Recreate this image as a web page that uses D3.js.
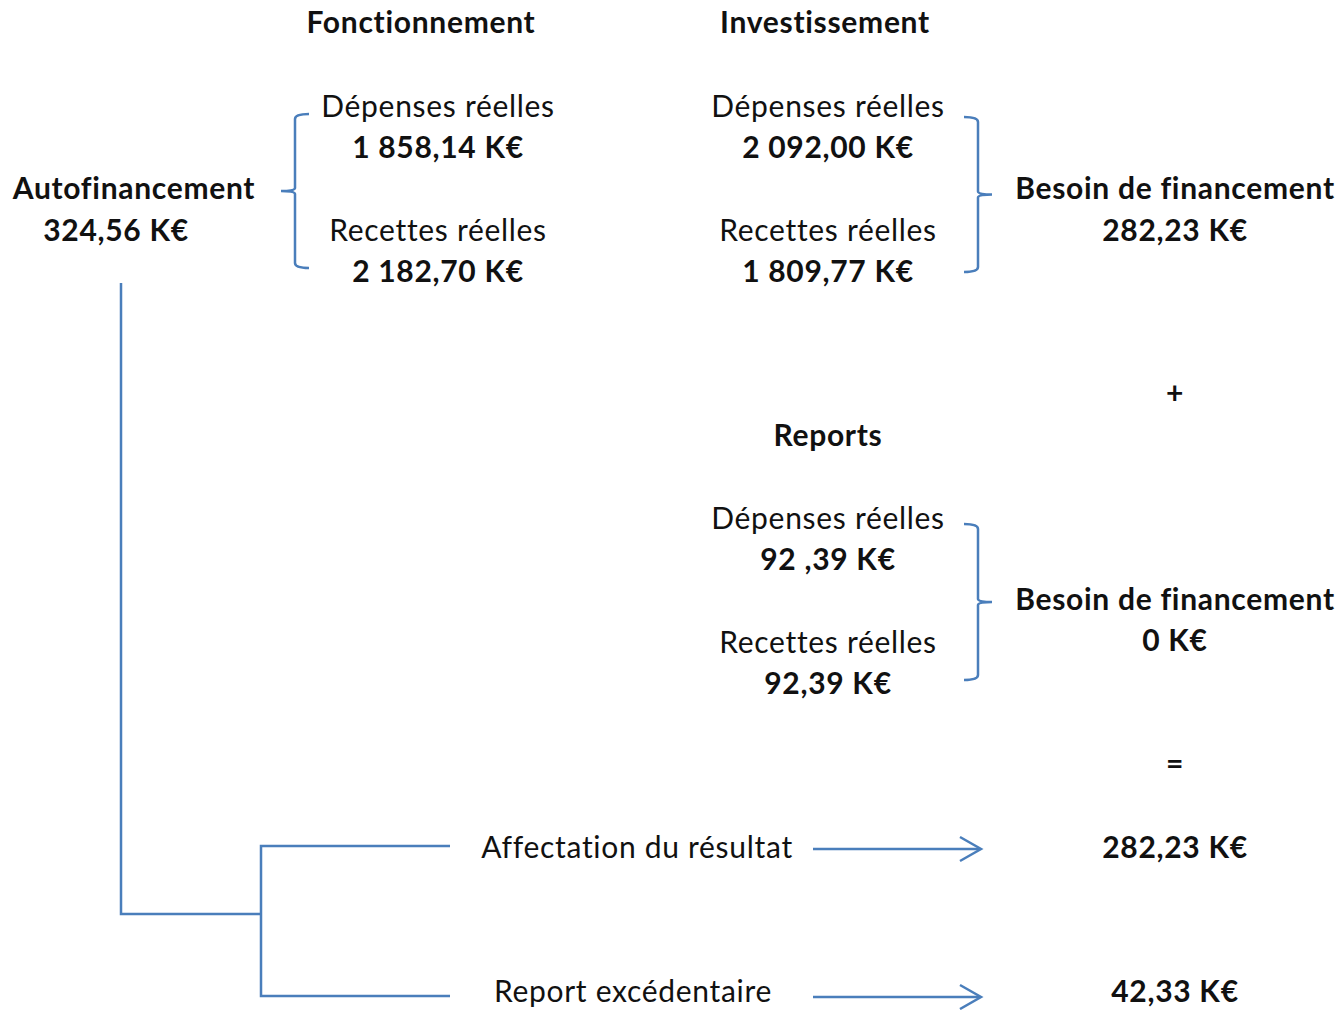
<!DOCTYPE html>
<html>
<head>
<meta charset="utf-8">
<script src="https://cdn.jsdelivr.net/npm/d3@7"></script>
<style>
  body { margin: 0; background: #fff; }
  text { font-family: Lato, "Noto Sans", sans-serif; fill: #111; font-variant-ligatures: none; letter-spacing: 0.7px; }
</style>
</head>
<body>
<svg id="chart" width="1340" height="1010"></svg>
<script>
// section headings
const headings = ["Fonctionnement", "Investissement", "Reports"];
// each group: expenses label/value, receipts label/value
const groupLabels = ["Dépenses réelles", "Recettes réelles"];
const fonctValues = ["1 858,14 K€", "2 182,70 K€"];
const investValues = ["2 092,00 K€", "1 809,77 K€"];
const reportValues = ["92 ,39 K€", "92,39 K€"];
// results
const autofin = ["Autofinancement", "324,56 K€"];
const besoinTitle = "Besoin de financement";
const besoinValues = ["282,23 K€", "0 K€"];
const operators = ["+", "="];
const outcomes = ["Affectation du résultat", "Report excédentaire"];
const outcomeValues = ["282,23 K€", "42,33 K€"];

const svg = d3.select("#chart");
const blue = "#4a7ebb";
const fs = 30;

function label(x, y, txt, bold) {
  svg.append("text")
    .attr("x", x).attr("y", y)
    .attr("text-anchor", "middle")
    .style("font-size", fs + "px")
    .style("font-weight", bold ? 700 : 400)
    .text(txt);
}

// two-row block: label + value, label + value
function block(cx, top, values) {
  groupLabels.forEach((l, i) => {
    label(cx, top + i * 124, l, false);
    label(cx, top + 41 + i * 124, values[i], true);
  });
}

// bracket: vertical line with short end ticks and a middle tick
function bracket(x, y0, y1, dir) {
  const mid = (y0 + y1) / 2;
  const t = 14 * dir;
  svg.append("path")
    .attr("d", `M${x + t},${y0} Q${x},${y0} ${x},${y0 + 5} L${x},${mid - 3} Q${x},${mid} ${x - t},${mid} Q${x},${mid} ${x},${mid + 3} L${x},${y1 - 5} Q${x},${y1} ${x + t},${y1}`)
    .attr("fill", "none").attr("stroke", blue).attr("stroke-width", 2.5);
}

label(421, 33, headings[0], true);
label(825, 33, headings[1], true);

block(438, 117, fonctValues);
block(828, 117, investValues);
bracket(295, 114, 268, 1);
bracket(978, 117, 272, -1);

label(134, 199, autofin[0], true);
label(116, 241, autofin[1], true);

label(1175, 199, besoinTitle, true);
label(1175, 241, besoinValues[0], true);

label(1175, 404, operators[0], true);
label(828, 446, headings[2], true);

block(828, 529, reportValues);
bracket(978, 524, 680, -1);
label(1175, 610, besoinTitle, true);
label(1175, 651, besoinValues[1], true);

label(1175, 774, operators[1], true);

// connectors from Autofinancement
const line = d3.line();
const conn = [
  [[121, 283], [121, 914], [261, 914]],
  [[450, 846], [261, 846], [261, 996], [450, 996]]
];
svg.selectAll("path.conn").data(conn).enter().append("path")
  .attr("class", "conn")
  .attr("d", line)
  .attr("fill", "none").attr("stroke", blue).attr("stroke-width", 2.5);

const rowY = d3.scaleOrdinal().domain(outcomes).range([849, 997]);
outcomes.forEach((o, i) => {
  const y = rowY(o);
  label(i === 0 ? 637 : 633, y + (i === 0 ? 9 : 5), o, false);
  svg.append("path")
    .attr("d", line([[813, y], [980, y]]))
    .attr("fill", "none").attr("stroke", blue).attr("stroke-width", 2.5);
  svg.append("path")
    .attr("d", line([[960, y - 12], [981, y], [960, y + 12]]))
    .attr("fill", "none").attr("stroke", blue).attr("stroke-width", 2.5);
  label(1175, y + (i === 0 ? 9 : 5), outcomeValues[i], true);
});
</script>
</body>
</html>
